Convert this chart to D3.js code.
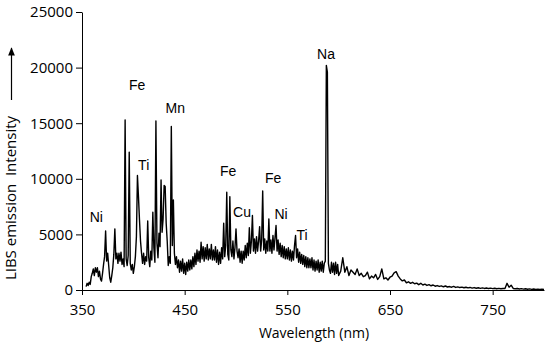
<!DOCTYPE html>
<meta charset="utf-8">

<!-- Load d3.js -->
<script src="https://d3js.org/d3.v7.min.js"></script>

<style>
  body { margin: 0; background: #fff; }
  .tick text { font-family: "Open Sans", sans-serif; font-size: 15px; fill: #000; }
</style>

<!-- Create a div where the graph will take place -->
<div id="my_dataviz"></div>

<script>
// spectrum sampled every 1 nm from 354 to 600 nm
const startA = 354, stepA = 1;
const intensityA = [
  300,600,400,700,500,1200,1500,1900,1300,2000,        // 354
  1600,2000,1200,1700,1000,800,1500,2300,3000,5300,     // 364
  2600,3300,2200,1100,700,1300,2000,3200,5500,2800,     // 374
  3300,2400,3300,2600,3400,2300,2800,2100,15300,2800,   // 384
  2200,3100,12400,2400,1800,2300,1500,2100,3000,4800,   // 394
  10300,8400,6300,4400,3300,2400,3300,2300,3000,2600,   // 404
  6200,2900,2100,3500,2700,7000,3800,2500,15200,4200,   // 414
  2900,5100,3900,9900,5200,6400,9400,9300,6000,4400,    // 424
  2200,3000,2400,14700,4000,8100,3300,2300,3000,2000,   // 434
  2700,1600,2600,1700,2800,1500,2400,1400,2500,1700,    // 444
  2700,1800,2700,1900,3000,2100,3300,2300,3600,2600,    // 454
  3500,2500,4300,2800,3900,2600,3800,2800,4100,2700,    // 464
  3700,2800,4100,2700,3600,2700,3900,2500,3600,2300,    // 474
  3400,2400,3800,2800,6000,3000,4000,8800,3200,2700,    // 484
  8400,3600,3000,4400,2800,3800,5500,3500,2900,3700,    // 494
  2500,3500,2400,3500,2700,4000,2900,4200,3100,5600,    // 504
  3300,4400,6700,3500,4600,3300,4800,3500,4400,5700,    // 514
  3500,4500,8900,3600,4600,3300,4400,3500,6400,3500,    // 524
  4500,3300,4900,3600,4700,5800,3500,4500,3200,4200,    // 534
  3000,4000,2900,3900,2800,3700,2800,3800,2700,3600,    // 544
  2600,3500,2700,4000,4900,2900,3700,2500,3400,2400,    // 554
  3200,2300,3100,2100,3000,2000,2900,2000,2800,2000,    // 564
  2900,1800,2700,1700,2600,1800,2700,1600,2500,1700,    // 574
  2600,1600,2400,2600,20200,19600,2400,1800,1500,2500,  // 584
  1600,2400,1400,2500,1500,2300,1300                    // 594
];

// tail of the spectrum, every 2 nm from 602 to 800 nm
const startB = 602, stepB = 2;
const intensityB = [
  1700,2900,1600,2100,1300,1800,1600,1400,1900,1300,    // 602
  1500,1200,1300,1600,1000,1250,1100,1400,950,1200,     // 622
  1900,1000,1100,900,1150,1250,1550,1650,1250,1000,     // 642
  820,900,650,740,600,690,560,620,480,600,              // 662
  450,520,410,480,380,450,340,400,320,370,              // 682
  290,360,270,310,250,320,230,280,220,260,              // 702
  200,250,190,230,170,220,160,200,150,190,              // 722
  140,180,130,170,120,160,110,150,110,140,              // 742
  130,600,250,430,140,110,130,90,120,80,                // 762
  110,70,100,60,90,60,80,50,70,60                       // 782
];

// element labels above the peaks (wavelength, intensity of label baseline)
const annoText = ["Fe", "Mn", "Ti", "Ni", "Fe", "Cu", "Fe", "Ni", "Ti", "Na"];
const annoWl   = [403.8, 440.8, 410.1, 363.9, 492.3, 505.9, 536.1, 543.9, 564.3, 587.7];
const annoInt  = [18000, 15930, 10800, 6120, 10260, 6570, 9630, 6390, 4500, 20790];

const xTicks = [350, 450, 550, 650, 750];
const yTicks = [0, 5000, 10000, 15000, 20000, 25000];

const data = intensityA.map((v, i) => ({wl: startA + i * stepA, val: v}))
  .concat(intensityB.map((v, i) => ({wl: startB + i * stepB, val: v})));

// set the dimensions and margins of the graph
const W = 550, H = 344;
const margin = {top: 12, right: 6, bottom: 54, left: 82};
const width = W - margin.left - margin.right,
      height = H - margin.top - margin.bottom;

const svg = d3.select("#my_dataviz")
  .append("svg")
    .attr("width", W)
    .attr("height", H)
  .append("g")
    .attr("transform", `translate(${margin.left},${margin.top})`);

const x = d3.scaleLinear()
  .domain([350, 800])
  .range([0, width]);

const y = d3.scaleLinear()
  .domain([0, 25000])
  .range([height, 0]);

// X axis
svg.append("g")
  .attr("transform", `translate(0,${height})`)
  .call(d3.axisBottom(x).tickValues(xTicks).tickSize(5).tickSizeOuter(0).tickPadding(9).tickFormat(d3.format("d")))
  .call(g => g.selectAll("line, path").attr("stroke", "#000"));

// Y axis
svg.append("g")
  .call(d3.axisLeft(y).tickValues(yTicks).tickSize(6).tickSizeOuter(0).tickPadding(3).tickFormat(d3.format("d")))
  .call(g => g.selectAll("line, path").attr("stroke", "#000"));

// the spectrum
svg.append("path")
  .datum(data)
  .attr("fill", "none")
  .attr("stroke", "#000")
  .attr("stroke-width", 1.4)
  .attr("stroke-linejoin", "round")
  .attr("d", d3.line()
    .x(d => x(d.wl))
    .y(d => y(d.val)));

// peak labels
svg.append("g")
  .selectAll("text")
  .data(annoText)
  .join("text")
    .attr("x", (d, i) => x(annoWl[i]))
    .attr("y", (d, i) => y(annoInt[i]))
    .attr("text-anchor", "middle")
    .style("font-family", "'Liberation Sans', Arial, sans-serif")
    .style("font-size", "14px")
    .text(d => d);

// axis titles
const root = d3.select("#my_dataviz svg");

root.append("text")
  .attr("x", 314)
  .attr("y", 338)
  .attr("text-anchor", "middle")
  .style("font-family", "'Open Sans', sans-serif")
  .style("font-size", "14px")
  .text("Wavelength (nm)");

root.append("text")
  .attr("transform", "translate(16,198) rotate(-90)")
  .attr("text-anchor", "middle")
  .style("font-family", "'Open Sans', sans-serif")
  .style("font-size", "15px")
  .style("white-space", "pre")
  .text("LIBS emission  Intensity");

// arrow next to the y title
root.append("defs").append("marker")
  .attr("id", "arrow")
  .attr("viewBox", "0 0 10 10")
  .attr("refX", 9).attr("refY", 5)
  .attr("markerWidth", 7).attr("markerHeight", 7)
  .attr("orient", "auto")
  .append("path")
    .attr("d", "M0,1 L10,5 L0,9 z")
    .attr("fill", "#000");

root.append("line")
  .attr("x1", 11.5).attr("y1", 100)
  .attr("x2", 11.5).attr("y2", 48)
  .attr("stroke", "#000")
  .attr("stroke-width", 1.2)
  .attr("marker-end", "url(#arrow)");
</script>
